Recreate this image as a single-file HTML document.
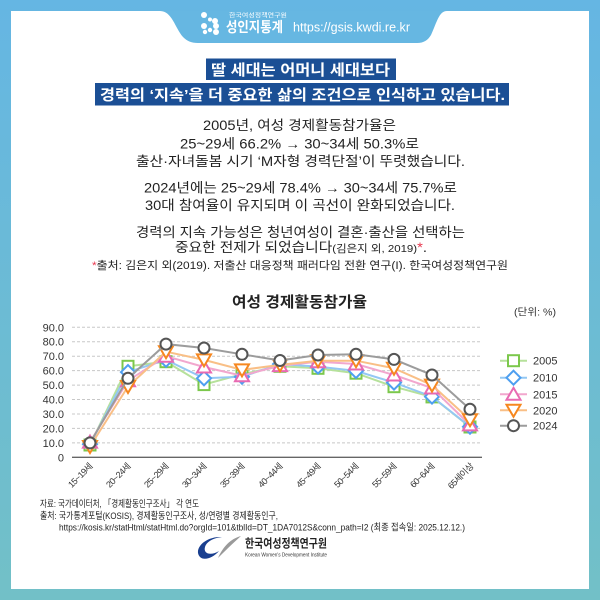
<!DOCTYPE html>
<html><head><meta charset="utf-8">
<style>
html,body{margin:0;padding:0;background:#fff;}
svg{display:block;}
text{font-family:"Liberation Sans","Noto Sans CJK KR",sans-serif;}
</style></head>
<body>
<svg width="600" height="600" viewBox="0 0 600 600" xmlns="http://www.w3.org/2000/svg">
<defs>
<linearGradient id="bg" x1="0" y1="0" x2="0" y2="1">
<stop offset="0" stop-color="#65b6e3"/>
<stop offset="1" stop-color="#72c0c7"/>
</linearGradient>
<rect id="sq" x="-5.5" y="-5.5" width="11" height="11" fill="#fff" stroke="#7cc84c" stroke-width="2"/>
<polygon id="dm" points="0,-7 7,0 0,7 -7,0" fill="#fff" stroke="#4e9ff0" stroke-width="2"/>
<polygon id="tu" points="0,-6.5 7,5.5 -7,5.5" fill="#fff" stroke="#e86ab2" stroke-width="2"/>
<polygon id="td" points="0,6.5 7,-5.5 -7,-5.5" fill="#fff" stroke="#f6871f" stroke-width="2"/>
<circle id="ci" r="5.5" fill="#fff" stroke="#555" stroke-width="2"/>
</defs>

<rect x="0" y="0" width="600" height="600" fill="url(#bg)"/>
<rect x="11" y="11" width="578" height="578" fill="#fff"/>
<!-- header tab -->
<path d="M160,11 C172,11 175,28 183,37 C187,41 191,43 198,43 L417,43 C424,43 428,40 431,35 C437,22 439,11 447,11 Z" fill="#66b7e2"/>
<!-- dots icon -->
<g fill="#fff">
<circle cx="204" cy="15" r="3"/>
<circle cx="210" cy="19.5" r="2"/>
<circle cx="215" cy="21" r="3"/>
<circle cx="204" cy="26" r="3"/>
<circle cx="210" cy="30" r="2.2"/>
<circle cx="216" cy="26" r="3"/>
<circle cx="216" cy="32" r="3"/>
<circle cx="205" cy="32" r="2.2"/>
</g>
<text x="229" y="17.5" font-size="6" fill="#fff" textLength="58" lengthAdjust="spacingAndGlyphs">한국여성정책연구원</text>
<text x="226" y="32" font-size="14" font-weight="bold" fill="#fff" textLength="57" lengthAdjust="spacingAndGlyphs">성인지통계</text>
<text x="293" y="31.5" font-size="12.5" fill="#fff" textLength="117" lengthAdjust="spacingAndGlyphs">https://gsis.kwdi.re.kr</text>

<!-- title boxes -->
<rect x="206" y="58.5" width="190" height="21.5" fill="#1b4f95"/>
<text x="211" y="75" font-size="15" font-weight="bold" fill="#fff" textLength="179" lengthAdjust="spacingAndGlyphs">딸 세대는 어머니 세대보다</text>
<rect x="95" y="83" width="414" height="22.5" fill="#1b4f95"/>
<text x="100" y="100" font-size="15" font-weight="bold" fill="#fff" textLength="405" lengthAdjust="spacingAndGlyphs">경력의 ‘지속’을 더 중요한 삶의 조건으로 인식하고 있습니다.</text>

<!-- body text -->
<g fill="#222" font-size="13.5">
<text x="203" y="130" textLength="193" lengthAdjust="spacingAndGlyphs">2005년, 여성 경제활동참가율은</text>
<text x="180" y="148.5" textLength="239" lengthAdjust="spacingAndGlyphs">25~29세 66.2% → 30~34세 50.3%로</text>
<text x="136" y="166" textLength="329" lengthAdjust="spacingAndGlyphs">출산·자녀돌봄 시기 ‘M자형 경력단절’이 뚜렷했습니다.</text>
<text x="144" y="192.5" textLength="313" lengthAdjust="spacingAndGlyphs">2024년에는 25~29세 78.4% → 30~34세 75.7%로</text>
<text x="145" y="210" textLength="310" lengthAdjust="spacingAndGlyphs">30대 참여율이 유지되며 이 곡선이 완화되었습니다.</text>
<text x="136" y="237" textLength="329" lengthAdjust="spacingAndGlyphs">경력의 지속 가능성은 청년여성이 결혼·출산을 선택하는</text>
<text x="175" y="252" textLength="252" lengthAdjust="spacingAndGlyphs">중요한 전제가 되었습니다<tspan font-size="10.5">(김은지 외, 2019)</tspan><tspan fill="#e8384f">*</tspan>.</text>
<text x="92" y="269" font-size="11" textLength="416" lengthAdjust="spacingAndGlyphs"><tspan fill="#e8384f">*</tspan>출처: 김은지 외(2019). 저출산 대응정책 패러다임 전환 연구(I). 한국여성정책연구원</text>
</g>

<!-- chart title -->
<text x="232" y="307" font-size="15" font-weight="bold" fill="#222" textLength="135" lengthAdjust="spacingAndGlyphs">여성 경제활동참가율</text>
<text x="514" y="315.5" font-size="10" fill="#333" textLength="42" lengthAdjust="spacingAndGlyphs">(단위: %)</text>

<!-- grid -->
<g stroke="#c8c8c8" stroke-width="1" stroke-dasharray="3,2">
<line x1="72" y1="442.9" x2="482" y2="442.9"/>
<line x1="72" y1="428.4" x2="482" y2="428.4"/>
<line x1="72" y1="414.0" x2="482" y2="414.0"/>
<line x1="72" y1="399.5" x2="482" y2="399.5"/>
<line x1="72" y1="385.1" x2="482" y2="385.1"/>
<line x1="72" y1="370.6" x2="482" y2="370.6"/>
<line x1="72" y1="356.2" x2="482" y2="356.2"/>
<line x1="72" y1="341.7" x2="482" y2="341.7"/>
<line x1="72" y1="327.3" x2="482" y2="327.3"/>
</g>
<line x1="72" y1="457.3" x2="482" y2="457.3" stroke="#666" stroke-width="1.3"/>

<!-- y labels -->
<g font-size="11" fill="#333" text-anchor="end">
<text x="64" y="461.3">0</text>
<text x="64" y="446.9">10.0</text>
<text x="64" y="432.4">20.0</text>
<text x="64" y="418.0">30.0</text>
<text x="64" y="403.5">40.0</text>
<text x="64" y="389.1">50.0</text>
<text x="64" y="374.6">60.0</text>
<text x="64" y="360.2">70.0</text>
<text x="64" y="345.7">80.0</text>
<text x="64" y="331.3">90.0</text>
</g>

<!-- x labels -->
<g font-size="9" fill="#333" text-anchor="end" letter-spacing="-0.6">
<text transform="translate(93,467) rotate(-45)">15~19세</text>
<text transform="translate(131,467) rotate(-45)">20~24세</text>
<text transform="translate(169,467) rotate(-45)">25~29세</text>
<text transform="translate(207,467) rotate(-45)">30~34세</text>
<text transform="translate(245,467) rotate(-45)">35~39세</text>
<text transform="translate(283,467) rotate(-45)">40~44세</text>
<text transform="translate(321,467) rotate(-45)">45~49세</text>
<text transform="translate(359,467) rotate(-45)">50~54세</text>
<text transform="translate(397,467) rotate(-45)">55~59세</text>
<text transform="translate(435,467) rotate(-45)">60~64세</text>
<text transform="translate(474,467) rotate(-45)">65세이상</text>
</g>

<!-- series 2005 -->
<polyline fill="none" stroke="#b6e19b" stroke-width="2" points="90,445.0 128,366.3 166,361.7 204,384.6 242,374.2 280,366.3 318,368.3 356,373.2 394,386.7 432,396.9 470,427.0"/>
<use href="#sq" x="90" y="445.0"/><use href="#sq" x="128" y="366.3"/><use href="#sq" x="166" y="361.7"/><use href="#sq" x="204" y="384.6"/><use href="#sq" x="242" y="374.2"/><use href="#sq" x="280" y="366.3"/><use href="#sq" x="318" y="368.3"/><use href="#sq" x="356" y="373.2"/><use href="#sq" x="394" y="386.7"/><use href="#sq" x="432" y="396.9"/><use href="#sq" x="470" y="427.0"/>
<!-- series 2010 -->
<polyline fill="none" stroke="#94c8f3" stroke-width="2" points="90,444.3 128,372.1 166,359.8 204,378.3 242,376.7 280,364.1 318,366.6 356,370.9 394,382.6 432,396.6 470,426.7"/>
<use href="#dm" x="90" y="444.3"/><use href="#dm" x="128" y="372.1"/><use href="#dm" x="166" y="359.8"/><use href="#dm" x="204" y="378.3"/><use href="#dm" x="242" y="376.7"/><use href="#dm" x="280" y="364.1"/><use href="#dm" x="318" y="366.6"/><use href="#dm" x="356" y="370.9"/><use href="#dm" x="394" y="382.6"/><use href="#dm" x="432" y="396.6"/><use href="#dm" x="470" y="426.7"/>
<!-- series 2015 -->
<polyline fill="none" stroke="#f2a7ce" stroke-width="2" points="90,442.1 128,380.7 166,356.2 204,367.0 242,375.7 280,365.6 318,361.7 356,364.0 394,375.0 432,388.0 470,424.9"/>
<use href="#tu" x="90" y="442.1"/><use href="#tu" x="128" y="380.7"/><use href="#tu" x="166" y="356.2"/><use href="#tu" x="204" y="367.0"/><use href="#tu" x="242" y="375.7"/><use href="#tu" x="280" y="365.6"/><use href="#tu" x="318" y="361.7"/><use href="#tu" x="356" y="364.0"/><use href="#tu" x="394" y="375.0"/><use href="#tu" x="432" y="388.0"/><use href="#tu" x="470" y="424.9"/>
<!-- series 2020 -->
<polyline fill="none" stroke="#f9bf86" stroke-width="2" points="90,446.5 128,386.5 166,351.7 204,359.9 242,369.9 280,364.9 318,360.7 356,360.7 394,368.3 432,385.1 470,419.7"/>
<use href="#td" x="90" y="446.5"/><use href="#td" x="128" y="386.5"/><use href="#td" x="166" y="351.7"/><use href="#td" x="204" y="359.9"/><use href="#td" x="242" y="369.9"/><use href="#td" x="280" y="364.9"/><use href="#td" x="318" y="360.7"/><use href="#td" x="356" y="360.7"/><use href="#td" x="394" y="368.3"/><use href="#td" x="432" y="385.1"/><use href="#td" x="470" y="419.7"/>
<!-- series 2024 -->
<polyline fill="none" stroke="#9c9c9c" stroke-width="2" points="90,442.9 128,378.3 166,344.1 204,348.0 242,354.3 280,360.5 318,355.0 356,354.3 394,359.4 432,375.0 470,409.3"/>
<use href="#ci" x="90" y="442.9"/><use href="#ci" x="128" y="378.3"/><use href="#ci" x="166" y="344.1"/><use href="#ci" x="204" y="348.0"/><use href="#ci" x="242" y="354.3"/><use href="#ci" x="280" y="360.5"/><use href="#ci" x="318" y="355.0"/><use href="#ci" x="356" y="354.3"/><use href="#ci" x="394" y="359.4"/><use href="#ci" x="432" y="375.0"/><use href="#ci" x="470" y="409.3"/>

<!-- legend -->
<g stroke-width="2">
<line x1="500" y1="360.7" x2="527" y2="360.7" stroke="#b6e19b"/>
<line x1="500" y1="377.7" x2="527" y2="377.7" stroke="#94c8f3"/>
<line x1="500" y1="394.3" x2="527" y2="394.3" stroke="#f2a7ce"/>
<line x1="500" y1="410.3" x2="527" y2="410.3" stroke="#f9bf86"/>
<line x1="500" y1="425.7" x2="527" y2="425.7" stroke="#9c9c9c"/>
</g>
<use href="#sq" x="513.5" y="360.7"/>
<use href="#dm" x="513.5" y="377.7"/>
<use href="#tu" x="513.5" y="394.3"/>
<use href="#td" x="513.5" y="410.3"/>
<use href="#ci" x="513.5" y="425.7"/>
<g font-size="11" fill="#333">
<text x="533" y="364.7">2005</text>
<text x="533" y="381.7">2010</text>
<text x="533" y="398.3">2015</text>
<text x="533" y="414.3">2020</text>
<text x="533" y="429.7">2024</text>
</g>

<!-- footer -->
<g font-size="9.5" fill="#222">
<text x="40" y="506.8" textLength="159" lengthAdjust="spacingAndGlyphs">자료: 국가데이터처, 「경제활동인구조사」 각 연도</text>
<text x="40" y="519" textLength="238" lengthAdjust="spacingAndGlyphs">출처: 국가통계포털(KOSIS), 경제활동인구조사, 성/연령별 경제활동인구,</text>
<text x="59" y="530.5" textLength="406" lengthAdjust="spacingAndGlyphs">https://kosis.kr/statHtml/statHtml.do?orgId=101&amp;tblId=DT_1DA7012S&amp;conn_path=I2 (최종 접속일: 2025.12.12.)</text>
</g>

<!-- logo -->
<path d="M222,537 C205,536 193,549 200,557 C204,561 213,558 219,551 C211,556 203,554 205,547 C207,541 214,538 222,537 Z" fill="#1a3f8f"/>
<path d="M241,536 C230,539 223,547 218,558 C225,551 232,544 241,536 Z" fill="#9a9a9a"/>
<text x="245" y="547.5" font-size="12" font-weight="bold" fill="#222" textLength="82" lengthAdjust="spacingAndGlyphs">한국여성정책연구원</text>
<text x="245" y="556.5" font-size="5" fill="#333" textLength="82" lengthAdjust="spacingAndGlyphs">Korean Women's Development Institute</text>
</svg>
</body></html>
